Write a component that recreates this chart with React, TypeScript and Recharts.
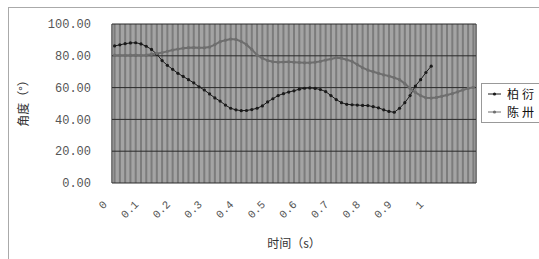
import { LineChart, Line, XAxis, YAxis, CartesianGrid, Legend } from "recharts";

// one sample every 1/60 s, a label every 0.1 s
const TICK_LABELS = ["0", "0.1", "0.2", "0.3", "0.4", "0.5", "0.6", "0.7", "0.8", "0.9", "1"];
const SAMPLES_PER_LABEL = 6;

const BAIYAN = [
  86.2, 86.9, 87.6, 88.1, 88.2, 87.5, 86, 84, 81, 77,
  74, 71.5, 69, 67, 65, 63, 60.5, 58.5, 56, 53.5,
  51.5, 49, 47, 46, 45.5, 45.6, 46.2, 47, 48.5, 51,
  53, 55, 56.2, 57.2, 58, 59, 59.6, 59.8, 59.5, 58.8,
  57.5, 55, 52.5, 50.5, 49.5, 49.2, 49, 48.8, 48.7, 48,
  47.3, 46, 45, 44.5, 47, 50.5, 55, 61, 65, 69.5,
  73.5,
];

const CHENSA = [
  80.4, 80.3, 80.3, 80.4, 80.5, 80.3, 80.5, 81, 81.5, 82,
  82.8, 83.6, 84.2, 84.8, 85.1, 85.2, 85, 85, 85.5, 87,
  88.9, 89.8, 90.5, 90.3, 89, 87, 84, 80.4, 78.5, 77,
  76.2, 76, 76.1, 76.2, 76, 75.8, 75.6, 75.6, 76, 76.5,
  77.3, 78, 78.8, 78.5, 77.5, 76.5, 74.5, 72.5, 71, 70,
  69, 68, 67.3, 66.2, 65, 62.5, 59.5, 57, 55, 53.6,
  53.4, 53.8, 54.5, 55.3, 56.2, 57.3, 58.5, 59.5, 60.2,
];

const Y_TICKS = [0, 20, 40, 60, 80, 100];

const data = CHENSA.map((v, i) => ({ i, 柏衍: BAIYAN[i], 陈卅: v }));

const NUM_FONT = "'Liberation Mono', 'DejaVu Sans Mono', monospace";
const CJK_FONT = "'Noto Sans CJK SC', sans-serif";

function TimeTick({ x, y, payload }: any) {
  const idx = payload.value;
  if (idx % SAMPLES_PER_LABEL !== 0) return null;
  const label = TICK_LABELS[idx / SAMPLES_PER_LABEL];
  if (!label) return null;
  const tx = x - 7;
  const ty = y + 22;
  return (
    <text
      x={tx}
      y={ty}
      textAnchor="end"
      transform={`rotate(-45 ${tx} ${ty})`}
      fontFamily={NUM_FONT}
      fontSize={11}
      fill="#555"
    >
      {label}
    </text>
  );
}

function LegendBox({ payload }: any) {
  return (
    <div
      style={{
        width: 80,
        boxSizing: "border-box",
        border: "1px solid #999",
        background: "#fff",
        padding: "1px 0 1px 6px",
        fontFamily: CJK_FONT,
        fontSize: 12,
        color: "#111",
        whiteSpace: "nowrap",
      }}
    >
      {payload.map((p: any) => (
        <div
          key={p.value}
          style={{ display: "flex", alignItems: "center", height: 18, lineHeight: "14px" }}
        >
          <svg width={13} height={6} style={{ flex: "none" }}>
            <line x1={0} y1={3} x2={13} y2={3} stroke={p.color} />
            <circle cx={6.5} cy={3} r={1.6} fill={p.color} />
          </svg>
          <span style={{ marginLeft: 6, letterSpacing: 3 }}>{p.value}</span>
        </div>
      ))}
    </div>
  );
}

export default function App() {
  return (
    <div
      style={{
        position: "absolute",
        left: 0,
        top: 0,
        width: 539,
        height: 259,
        overflow: "hidden",
        background: "#fff",
      }}
    >
      <div
        style={{
          position: "absolute",
          left: 8,
          top: 7,
          width: 600,
          height: 300,
          border: "1px solid #aaa",
        }}
      />
      <LineChart
        width={539}
        height={259}
        data={data}
        margin={{ top: 24, right: 63, bottom: 36, left: 0 }}
      >
        <CartesianGrid
          xAxisId="grid"
          horizontal={false}
          stroke="#7c7c7c"
          strokeWidth={2}
          fill="#a4a4a4"
          fillOpacity={1}
        />
        <CartesianGrid vertical={false} stroke="#2a2a2a" />
        <XAxis
          xAxisId="grid"
          dataKey="i"
          hide
          interval={0}
          padding={{ left: 2.6, right: 2.6 }}
        />
        <XAxis
          dataKey="i"
          interval={SAMPLES_PER_LABEL - 1}
          padding={{ left: 2.6, right: 2.6 }}
          height={40}
          axisLine={false}
          tickLine={false}
          tickSize={0}
          tickMargin={0}
          tick={<TimeTick />}
          label={{
            content: ({ viewBox }: any) => (
              <text
                x={viewBox.x + viewBox.width / 2}
                y={248}
                textAnchor="middle"
                fontFamily={CJK_FONT}
                fontSize={12}
                fill="#333"
              >
                时间（s）
              </text>
            ),
          }}
        />
        <YAxis
          domain={[0, 100]}
          ticks={Y_TICKS}
          width={112}
          axisLine={false}
          tickLine={false}
          tickSize={0}
          tickMargin={21}
          tickFormatter={(v: number) => v.toFixed(2)}
          tick={{ fontFamily: NUM_FONT, fontSize: 12, fill: "#555" }}
          label={{
            content: ({ viewBox }: any) => {
              const cx = 22;
              const cy = viewBox.y + viewBox.height / 2 - 3;
              return (
                <text
                  x={cx}
                  y={cy}
                  textAnchor="middle"
                  dominantBaseline="central"
                  transform={`rotate(-90 ${cx} ${cy})`}
                  fontFamily={CJK_FONT}
                  fontSize={12}
                  fill="#333"
                >
                  角度（°）
                </text>
              );
            },
          }}
        />
        <Legend
          layout="horizontal"
          align="center"
          verticalAlign="middle"
          content={<LegendBox />}
          wrapperStyle={{ left: 481, top: 83, width: 80, height: "auto" }}
        />
        <Line
          dataKey="柏衍"
          stroke="#1a1a1a"
          strokeWidth={1}
          dot={{ r: 1.6, fill: "#1a1a1a", stroke: "none" }}
          activeDot={false}
          isAnimationActive={false}
        />
        <Line
          dataKey="陈卅"
          stroke="#6e6e6e"
          strokeWidth={2}
          dot={{ r: 1.6, fill: "#6e6e6e", stroke: "none" }}
          activeDot={false}
          isAnimationActive={false}
        />
      </LineChart>
    </div>
  );
}
